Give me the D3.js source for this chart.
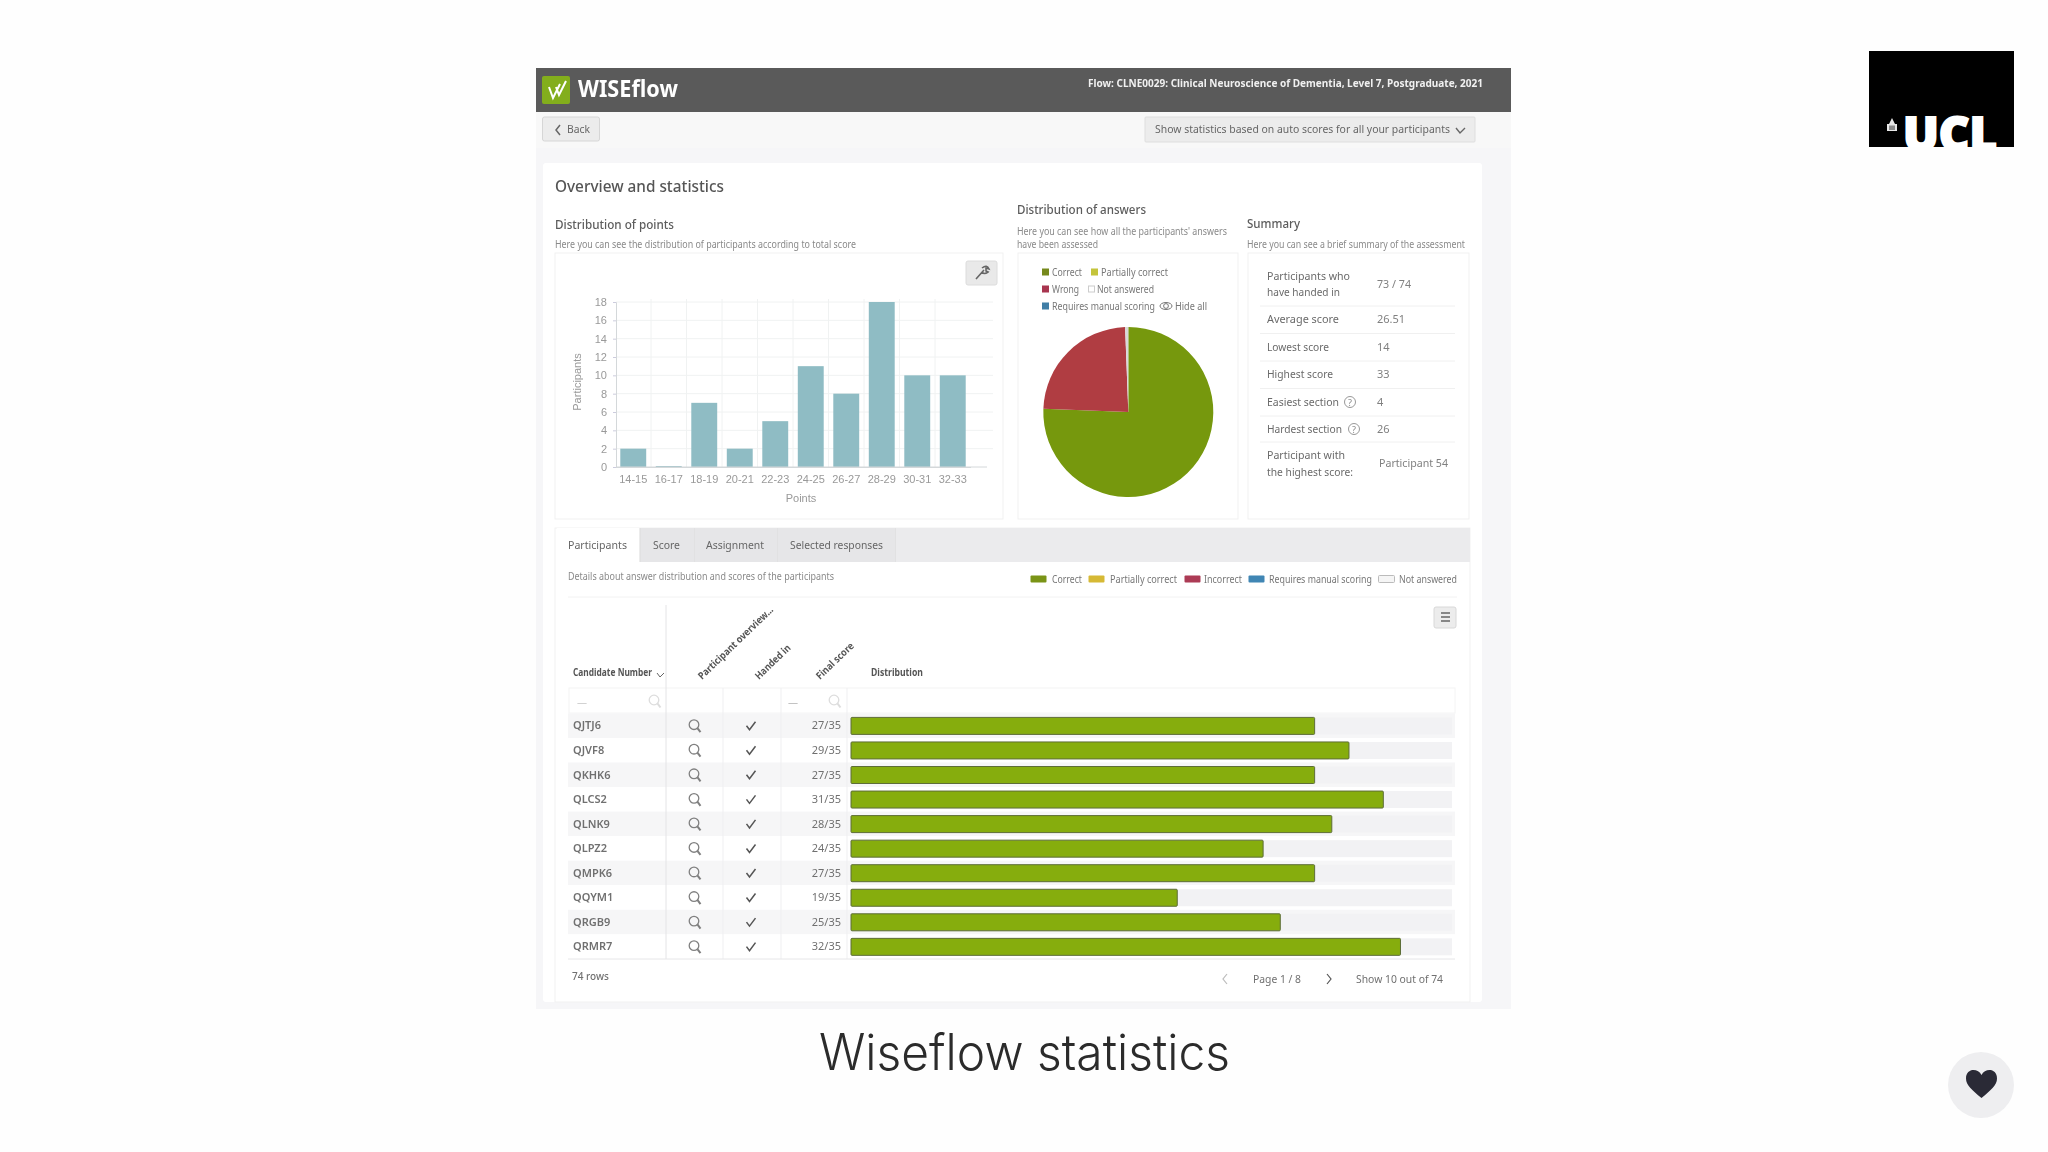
<!DOCTYPE html>
<html>
<head>
<meta charset="utf-8">
<script src="https://cdn.jsdelivr.net/npm/d3@7"></script>
<style>
  html, body { margin: 0; background: #fefefe; }
  svg { display: block; }
  text { font-family: "Noto Sans", sans-serif; }
</style>
</head>
<body>
<svg id="page" width="2048" height="1152"></svg>
<script>
// values
let pointBins = ['14-15','16-17','18-19','20-21','22-23','24-25','26-27','28-29','30-31','32-33'];
let binCounts = [2,0,7,2,5,11,8,18,10,10];
let yTicks = [0,2,4,6,8,10,12,14,16,18];

let answerLabels = ['Correct','Wrong','Not answered'];
let answerShares = [75.6,23.8,0.6];
let answerColors = ['#76980c','#b03c42','#d9d9d9'];

let candidates = ['QJTJ6','QJVF8','QKHK6','QLCS2','QLNK9','QLPZ2','QMPK6','QQYM1','QRGB9','QRMR7'];
let finalScores = [27,29,27,31,28,24,27,19,25,32];
let maxScore = 35;

let summaryValues = ['26.51','14','33','4','26'];
let summaryLabels = ['Average score','Lowest score','Highest score','Easiest section','Hardest section'];

let svg = d3.select('#page');
let defs = svg.append('defs');
defs.append('filter').attr('id','soft').attr('x',0).attr('y',0).attr('width',1).attr('height',1)
  .append('feGaussianBlur').attr('stdDeviation',0.55);
defs.append('clipPath').attr('id','uclClip')
  .append('rect').attr('x',1869).attr('y',51).attr('width',145).attr('height',96);

// text helper, w forces the measured width from the reference
function txt(g, x, y, s, o) {
  o = o || {};
  let t = g.append('text').attr('x',x).attr('y',y).text(s)
    .attr('font-size',o.size || 10)
    .attr('font-weight',o.weight || 400)
    .attr('fill',o.fill || '#666')
    .attr('text-anchor',o.anchor || 'start');
  if (o.w) t.attr('textLength',o.w).attr('lengthAdjust','spacingAndGlyphs');
  if (o.family) t.style('font-family',o.family);
  return t;
}
function box(g, x, y, w, h, fill, stroke, rx) {
  return g.append('rect').attr('x',x).attr('y',y).attr('width',w).attr('height',h)
    .attr('fill',fill).attr('stroke',stroke || 'none').attr('rx',rx || 0);
}
function lens(g, cx, cy, col) {
  g.append('circle').attr('cx',cx-1).attr('cy',cy-1).attr('r',4.8).attr('fill','none').attr('stroke',col).attr('stroke-width',1.3);
  g.append('line').attr('x1',cx+2.4).attr('y1',cy+2.4).attr('x2',cx+5.5).attr('y2',cy+6.5).attr('stroke',col).attr('stroke-width',2);
}

let shot = svg.append('g').attr('filter','url(#soft)');

// frame and header
box(shot,536,68,975,941,'#f6f6f8');
box(shot,536,68,975,44,'#5a5a5a');
box(shot,536,112,975,36,'#f8f8f8');
box(shot,542,76,28,28,'#83ae1c',null,2);
shot.append('path').attr('d','M549 87 L553 98 L560 84 M556 87 L559 95 L566 81').attr('fill','none').attr('stroke','#fff').attr('stroke-width',2);
txt(shot,578,97,'WISEflow',{size:24,weight:700,fill:'#fff',w:100});
txt(shot,1088,87,'Flow: CLNE0029: Clinical Neuroscience of Dementia, Level 7, Postgraduate, 2021',{size:11,weight:700,fill:'#f0f0f0',w:395});

box(shot,542.5,117,57,24,'#ececec','#d6d6d6',2);
shot.append('path').attr('d','M560 125 L556 130 L560 135').attr('fill','none').attr('stroke','#666').attr('stroke-width',1.5);
txt(shot,567,133,'Back',{size:11,fill:'#666',w:23});
box(shot,1145,117,330,25,'#ececec','#dedede',1);
txt(shot,1155,133,'Show statistics based on auto scores for all your participants',{size:11,fill:'#666',w:295});
shot.append('path').attr('d','M1456 128 L1460 133 L1465 128').attr('fill','none').attr('stroke','#666').attr('stroke-width',1.4);

box(shot,543,163,939,839,'#fff',null,3);
txt(shot,555,192,'Overview and statistics',{size:17,weight:500,fill:'#555',w:169});

// distribution of points
txt(shot,555,229,'Distribution of points',{size:13,weight:500,fill:'#5c5c5c',w:119});
txt(shot,555,248,'Here you can see the distribution of participants according to total score',{size:10,fill:'#8a8a8a',w:301});
box(shot,555,253,448,266,'#fff','#f1f1f1');
box(shot,966,261,31,24,'#e9e9e9','#dcdcdc',2);
shot.append('path').attr('d','M976 279 L984 270 M982 268 Q987 264 989 269 L986 268 L986 271 L988 272 Q984 275 982 272').attr('fill','none').attr('stroke','#666').attr('stroke-width',1.6);

let x = d3.scaleBand().domain(pointBins).range([615.5,970.5]).paddingInner(0.27).paddingOuter(0.135);
let y = d3.scaleLinear().domain([0,18]).range([467,302]);
let axisFont = '"Liberation Sans", sans-serif';

let grid = shot.append('g');
grid.selectAll('line.h').data(yTicks.slice(1)).join('line').attr('class','h')
  .attr('x1',616).attr('x2',993).attr('y1',d => y(d)).attr('y2',d => y(d))
  .attr('stroke','#f0f2f2');
grid.selectAll('line.v').data(pointBins.slice(1)).join('line').attr('class','v')
  .attr('x1',d => x(d) - x.step()*x.paddingInner()/2).attr('x2',d => x(d) - x.step()*x.paddingInner()/2)
  .attr('y1',299).attr('y2',467).attr('stroke','#f0f2f2');

shot.selectAll('rect.bin').data(binCounts).join('rect').attr('class','bin')
  .attr('x',(d,i) => x(pointBins[i]))
  .attr('width',x.bandwidth())
  .attr('y',d => d === 0 ? y(0)-1 : y(d))
  .attr('height',d => d === 0 ? 1 : y(0)-y(d))
  .attr('fill','#8fbcc4');

let yAxis = shot.append('g').attr('transform','translate(616,0)')
  .call(d3.axisLeft(y).tickValues(yTicks).tickSize(3).tickPadding(6));
let xAxis = shot.append('g').attr('transform','translate(0,467)')
  .call(d3.axisBottom(x).tickSize(0).tickPadding(8));
[yAxis,xAxis].forEach(a => {
  a.selectAll('text').attr('fill','#999').attr('font-size',11).style('font-family',axisFont);
  a.selectAll('line').attr('stroke','#ccd');
  a.select('.domain').attr('stroke','#d4d8da');
});
shot.append('line').attr('x1',616).attr('x2',987).attr('y1',467).attr('y2',467).attr('stroke','#d4d8da');
txt(shot,801,502,'Points',{size:11,fill:'#999',anchor:'middle',family:axisFont});
txt(shot,0,0,'Participants',{size:11,fill:'#999',anchor:'middle',family:axisFont})
  .attr('transform','translate(581,382) rotate(-90)');

// distribution of answers
txt(shot,1017,214,'Distribution of answers',{size:13,weight:500,fill:'#5c5c5c',w:129});
txt(shot,1017,235,"Here you can see how all the participants' answers",{size:10,fill:'#8a8a8a',w:210});
txt(shot,1017,248,'have been assessed',{size:10,fill:'#8a8a8a',w:81});
box(shot,1018,253,220,266,'#fff','#f1f1f1');

box(shot,1042,268.5,7,7,'#76891f');
txt(shot,1052,276,'Correct',{fill:'#777',w:30});
box(shot,1091,268.5,7,7,'#c4c43a');
txt(shot,1101,276,'Partially correct',{fill:'#777',w:67});
box(shot,1042,285.5,7,7,'#a83650');
txt(shot,1052,293,'Wrong',{fill:'#777',w:27});
box(shot,1088.5,286,6,6,'#fff','#ccc');
txt(shot,1097,293,'Not answered',{fill:'#777',w:57});
box(shot,1042,302.5,7,7,'#3f7ea6');
txt(shot,1052,310,'Requires manual scoring',{fill:'#777',w:103});
shot.append('ellipse').attr('cx',1166).attr('cy',306).attr('rx',6).attr('ry',3.5).attr('fill','none').attr('stroke','#777');
shot.append('circle').attr('cx',1166).attr('cy',306).attr('r',2.4).attr('fill','none').attr('stroke','#777');
txt(shot,1175,310,'Hide all',{fill:'#777',w:32});

let pie = d3.pie().sort(null)(answerShares);
let arc = d3.arc().innerRadius(0).outerRadius(85);
shot.append('g').attr('transform','translate(1128.3,412)')
  .selectAll('path').data(pie).join('path')
  .attr('d',arc)
  .attr('fill',(d,i) => answerColors[i]);

// summary
txt(shot,1247,228,'Summary',{size:13,weight:500,fill:'#5c5c5c',w:53});
txt(shot,1247,248,'Here you can see a brief summary of the assessment',{size:10,fill:'#8a8a8a',w:218});
box(shot,1248,253,221,266,'#fff','#f1f1f1');

let sumCol = '#6a6a6a', sumVal = '#808080';
txt(shot,1267,280,'Participants who',{size:11,fill:sumCol,w:83});
txt(shot,1267,296,'have handed in',{size:11,fill:sumCol,w:73});
txt(shot,1377,288,'73 / 74',{size:11,fill:sumVal,w:34});

let sumY = d3.scalePoint().domain(summaryLabels).range([323,433]);
let sumW = [72,62,66,72,75];
summaryLabels.forEach((s,i) => {
  txt(shot,1267,sumY(s),s,{size:11,fill:sumCol,w:sumW[i]});
  txt(shot,1377,sumY(s),summaryValues[i],{size:11,fill:sumVal});
  shot.append('line').attr('x1',1260).attr('x2',1455)
    .attr('y1',sumY(s)-17).attr('y2',sumY(s)-17).attr('stroke','#f0f0f0');
});
shot.append('line').attr('x1',1260).attr('x2',1455).attr('y1',442).attr('y2',442).attr('stroke','#f0f0f0');
[[1350,402],[1354,429]].forEach(p => {
  shot.append('circle').attr('cx',p[0]).attr('cy',p[1]).attr('r',5.5).attr('fill','none').attr('stroke','#999');
  txt(shot,p[0],p[1]+3.5,'?',{size:9,fill:'#888',anchor:'middle'});
});
txt(shot,1267,459,'Participant with',{size:11,fill:sumCol,w:78});
txt(shot,1267,476,'the highest score:',{size:11,fill:sumCol,w:86});
txt(shot,1379,467,'Participant 54',{size:11,fill:sumVal,w:69});

// tabbed table
box(shot,555,528,915,474,'#fff','#f1f1f1');
box(shot,557,528,913,34,'#ebebed');
box(shot,557,528,83,34,'#fff');
[640,694,777,895].forEach(px => {
  shot.append('line').attr('x1',px).attr('x2',px).attr('y1',528).attr('y2',562).attr('stroke','#d8d8d8');
});
box(shot,641,528,53,34,'#e6e6e8');
box(shot,695,528,82,34,'#e6e6e8');
box(shot,778,528,117,34,'#e6e6e8');
txt(shot,568,549,'Participants',{size:11,fill:'#666',w:59});
txt(shot,653,549,'Score',{size:11,fill:'#666',w:27});
txt(shot,706,549,'Assignment',{size:11,fill:'#666',w:58});
txt(shot,790,549,'Selected responses',{size:11,fill:'#666',w:93});
txt(shot,568,580,'Details about answer distribution and scores of the participants',{size:10,fill:'#8a8a8a',w:266});

[[1030,'#7a9418','Correct',1052,30],[1088,'#d6b936','Partially correct',1110,67],
 [1184,'#ac3a54','Incorrect',1204,38],[1248,'#3f86b4','Requires manual scoring',1269,103],
 [1378,'#f5f5f5','Not answered',1399,58]].forEach(l => {
  box(shot,l[0]+0.5,575.5,16,7,l[1],l[1] === '#f5f5f5' ? '#bbb' : null,1);
  txt(shot,l[3],583,l[2],{fill:'#777',w:l[4]});
});
shot.append('line').attr('x1',568).attr('x2',1457).attr('y1',597).attr('y2',597).attr('stroke','#f2f2f2');
box(shot,1434,607,22,21,'#ececec','#d8d8d8',2);
[613,617,621].forEach(ly => {
  shot.append('line').attr('x1',1441).attr('x2',1450).attr('y1',ly).attr('y2',ly).attr('stroke','#666').attr('stroke-width',1.5);
});

let headCol = '#555';
txt(shot,573,676,'Candidate Number',{weight:700,fill:headCol,w:79});
shot.append('path').attr('d','M657 673 L660 677 L664 673').attr('fill','none').attr('stroke','#666');
txt(shot,0,0,'Participant overview...',{weight:700,fill:headCol,w:100}).attr('transform','translate(702,680) rotate(-44)');
txt(shot,0,0,'Handed in',{weight:700,fill:headCol,w:45}).attr('transform','translate(759,680) rotate(-44)');
txt(shot,0,0,'Final score',{weight:700,fill:headCol,w:48}).attr('transform','translate(820,680) rotate(-44)');
txt(shot,871,676,'Distribution',{weight:700,fill:headCol,w:52});

box(shot,569,688,886,25,'#fff','#f4f4f4');
txt(shot,577,706,'—',{fill:'#ccc'});
txt(shot,788,706,'—',{fill:'#bbb'});
lens(shot,655,701,'#ddd');
lens(shot,835,701,'#ddd');

// table rows from the score list
let rowY = d3.scaleBand().domain(candidates).range([713.4,958.9]);
let scoreX = d3.scaleLinear().domain([0,maxScore]).range([851,1452]);

let rows = shot.selectAll('g.row').data(candidates).join('g').attr('class','row');
rows.append('rect')
  .attr('x',568).attr('width',887)
  .attr('y',d => rowY(d)).attr('height',rowY.bandwidth())
  .attr('fill',(d,i) => i % 2 === 0 ? '#f6f6f7' : '#fff');
rows.append('rect')
  .attr('x',scoreX(0)).attr('width',scoreX(maxScore)-scoreX(0))
  .attr('y',d => rowY(d)+4).attr('height',17)
  .attr('fill','#f2f2f4');
rows.append('rect')
  .attr('x',scoreX(0))
  .attr('width',(d,i) => scoreX(finalScores[i])-scoreX(0))
  .attr('y',d => rowY(d)+4).attr('height',17).attr('rx',1)
  .attr('fill','#86ad0e').attr('stroke','#5d6d38').attr('stroke-width',1);
rows.append('text')
  .attr('x',573).attr('y',d => rowY(d)+16)
  .attr('font-size',11).attr('font-weight',600).attr('fill','#707070')
  .text(d => d);
rows.append('text')
  .attr('x',841).attr('y',d => rowY(d)+16).attr('text-anchor','end')
  .attr('font-size',11).attr('fill','#707070')
  .text((d,i) => finalScores[i] + '/' + maxScore);
rows.each(function(d) {
  let g = d3.select(this), cy = rowY(d) + rowY.bandwidth()/2;
  lens(g,695,cy,'#808080');
  g.append('path').attr('d',`M746.5 ${cy} L749.5 ${cy+4} L755.5 ${cy-4}`)
    .attr('fill','none').attr('stroke','#555').attr('stroke-width',1.5);
});

shot.append('line').attr('x1',666).attr('x2',666).attr('y1',605).attr('y2',959).attr('stroke','#e4e4e6');
[723,781,847].forEach(lx => {
  shot.append('line').attr('x1',lx).attr('x2',lx).attr('y1',688).attr('y2',959).attr('stroke','#efeff1');
});
shot.append('line').attr('x1',568).attr('x2',1455).attr('y1',959).attr('y2',959).attr('stroke','#e6e6e8');

txt(shot,572,980,'74 rows',{size:10.5,weight:500,fill:'#707070',w:37});
shot.append('path').attr('d','M1227 974 L1223 979 L1227 984').attr('fill','none').attr('stroke','#bbb').attr('stroke-width',1.2);
txt(shot,1253,983,'Page 1 / 8',{size:11,fill:'#707070',w:48});
shot.append('path').attr('d','M1327 974 L1331 979 L1327 984').attr('fill','none').attr('stroke','#555').attr('stroke-width',1.2);
txt(shot,1356,983,'Show 10 out of 74',{size:11,fill:'#707070',w:87});

// UCL logo
box(svg,1869,51,145,96,'#000');
txt(svg,1903,151,'UCL',{size:48,weight:800,fill:'#fff',w:94,family:'"Open Sans", sans-serif'})
  .attr('stroke','#fff').attr('stroke-width',2)
  .attr('clip-path','url(#uclClip)');
svg.append('path').attr('d','M1887 131 V124 H1889 L1892 118 L1895 124 H1897 V131 Z').attr('fill','#e8e8e8');
[1890,1892,1894].forEach(cx => {
  svg.append('line').attr('x1',cx).attr('x2',cx).attr('y1',125.5).attr('y2',130).attr('stroke','#000').attr('stroke-width',0.8);
});

// caption and heart button
txt(svg,819,1070,'Wiseflow statistics',{size:50,weight:300,fill:'#2b2b2b',w:411,family:'Inter, sans-serif'});
svg.append('circle').attr('cx',1981).attr('cy',1085).attr('r',33).attr('fill','#eeeef0');
svg.append('path')
  .attr('d','M1981.5 1098 C1972 1090 1966 1085 1966 1078.5 C1966 1068 1978 1068 1981.5 1075 C1985 1068 1997 1068 1997 1078.5 C1997 1085 1991 1090 1981.5 1098 Z')
  .attr('fill','#2a2a36');
</script>
</body>
</html>
